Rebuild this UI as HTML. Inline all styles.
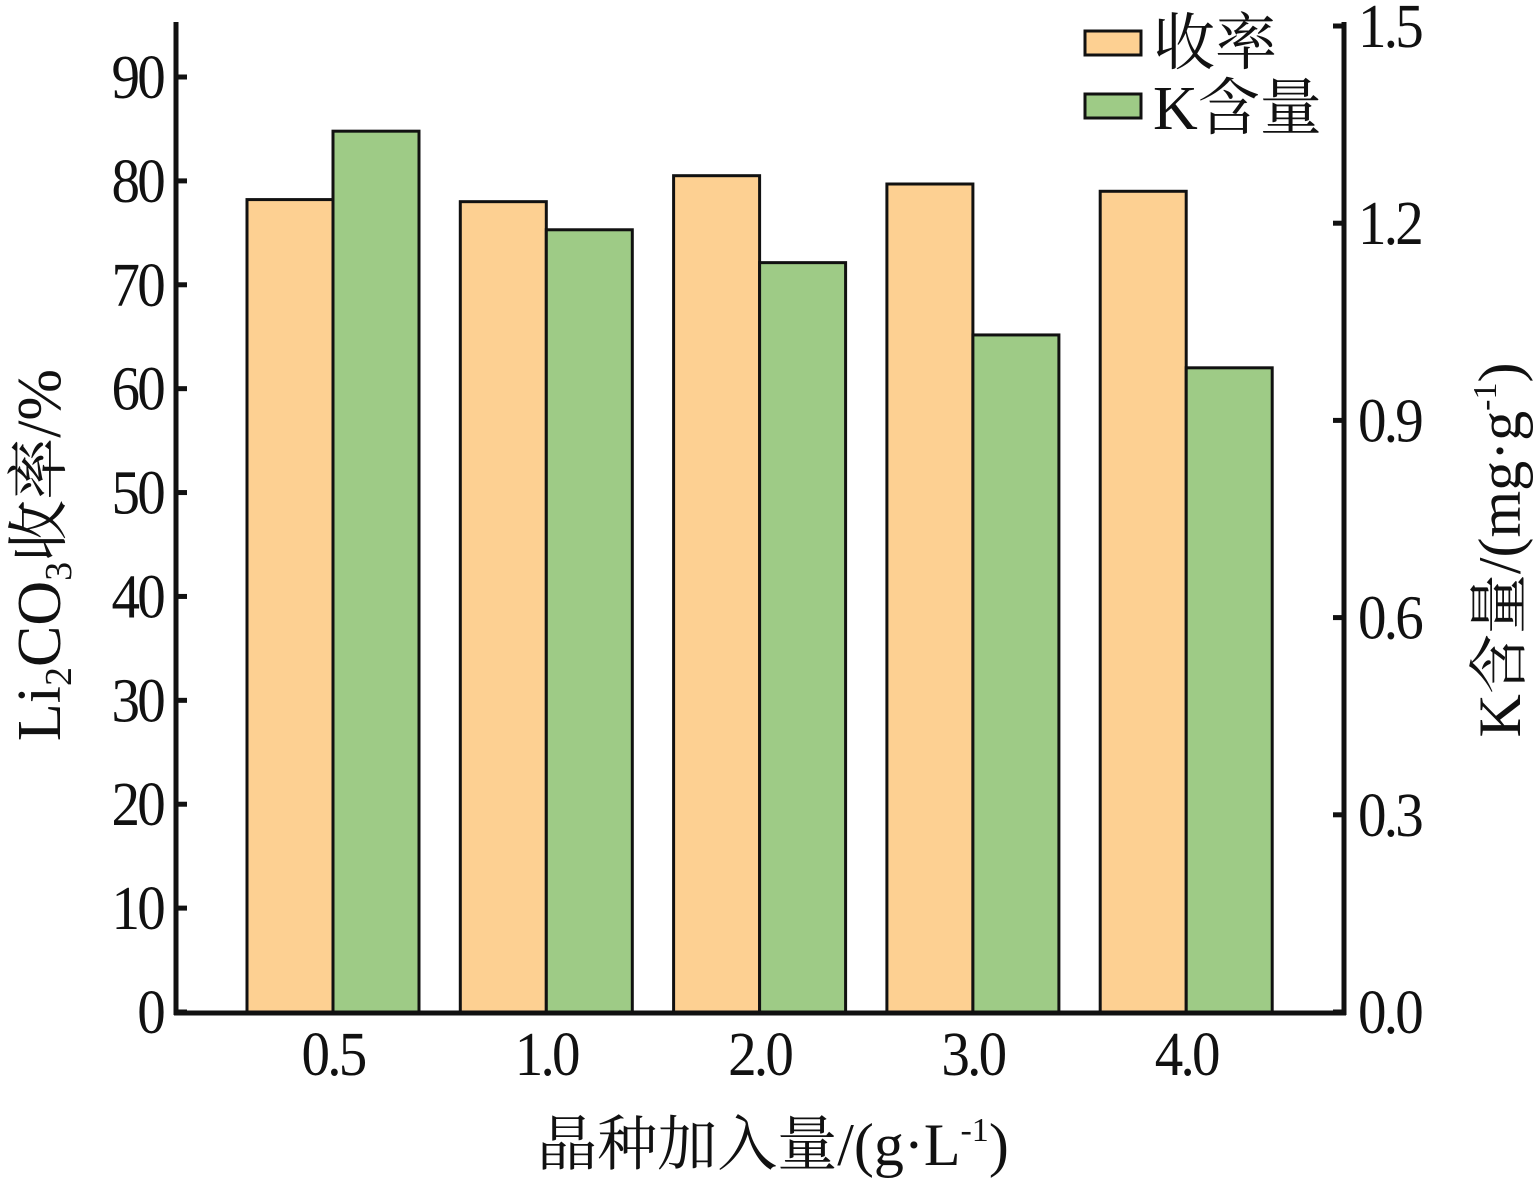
<!DOCTYPE html>
<html><head><meta charset="utf-8"><style>
body{margin:0;background:#fff}
svg{display:block;font-family:"Liberation Serif","Noto Serif CJK SC",serif}
</style></head><body>
<svg width="1535" height="1181" viewBox="0 0 1535 1181">
<g id="ax"></g><g id="bars"></g>
<g>
<rect x="1085" y="31" width="56" height="24" fill="#fdd092" stroke="#111" stroke-width="3"/>
<text x="1153" y="64" font-size="62" fill="#111">收率</text>
<rect x="1085" y="94" width="56" height="24" fill="#9ecb86" stroke="#111" stroke-width="3"/>
<text x="1153" y="129" font-size="62" fill="#111">K含量</text>
</g>
<text x="773" y="1165" font-size="60" text-anchor="middle" fill="#111">晶种加入量/(g·L<tspan font-size="34" dy="-24">-1</tspan><tspan dy="24">)</tspan></text>
<text transform="translate(60,555) rotate(-90)" font-size="62" text-anchor="middle" fill="#111">Li<tspan font-size="38" dy="11">2</tspan><tspan dy="-11">CO</tspan><tspan font-size="38" dy="11">3</tspan><tspan dy="-11">收率/%</tspan></text>
<text transform="translate(1520,550) rotate(-90)" font-size="60" text-anchor="middle" fill="#111">K含量/(mg·g<tspan font-size="34" dy="-24">-1</tspan><tspan dy="24">)</tspan></text>
</svg>
<script>
const categories=["0.5","1.0","2.0","3.0","4.0"];
const yieldVals=[78.2,78.0,80.5,79.7,79.0];
const kVals=[1.34,1.19,1.14,1.03,0.98];
const leftTicks=[0,10,20,30,40,50,60,70,80,90];
const rightTicks=["0.0","0.3","0.6","0.9","1.2","1.5"];
const NS="http://www.w3.org/2000/svg";
const y0=1012, xL=176, xR=1344;
const yL=v=>y0-v*(y0-77)/90;
const yR=v=>y0-v*(y0-26)/1.5;
const xc=i=>333+i*213.3;
const bw=86;
function mk(tag,attrs,parent){const e=document.createElementNS(NS,tag);for(const k in attrs)e.setAttribute(k,attrs[k]);parent.appendChild(e);return e;}
const ax=document.getElementById('ax'), bars=document.getElementById('bars');
let e;
e=mk('line',{x1:xL,y1:22,x2:xL,y2:y0+3,stroke:'#111','stroke-width':5},ax);


e=mk('line',{x1:xR,y1:22,x2:xR,y2:y0+3,stroke:'#111','stroke-width':5},ax);


leftTicks.forEach(v=>{
 const y=yL(v);
 e=mk('line',{x1:xL,y1:y,x2:xL+11,y2:y,stroke:'#111','stroke-width':5},ax);
 
 
 e=mk('text',{x:0,y:0,'font-size':62,'text-anchor':'end',fill:'#111','letter-spacing':-3,transform:`translate(163,${y+21}) scale(0.92,1)`},ax);
 e.textContent=v;
 
 
});
rightTicks.forEach(t=>{
 const y=yR(parseFloat(t));
 e=mk('line',{x1:xR-11,y1:y,x2:xR,y2:y,stroke:'#111','stroke-width':5},ax);
 
 
 e=mk('text',{x:0,y:0,'font-size':62,fill:'#111','letter-spacing':-3,transform:`translate(1358,${y+21}) scale(0.92,1)`},ax);
 e.textContent=t;
 
 
});
categories.forEach((c,i)=>{
 const x=xc(i);
 e=mk('rect',{x:x-bw,y:yL(yieldVals[i]),width:bw,height:y0-yL(yieldVals[i]),fill:'#fdd092',stroke:'#111','stroke-width':3},bars);
 
 
 e=mk('rect',{x:x,y:yR(kVals[i]),width:bw,height:y0-yR(kVals[i]),fill:'#9ecb86',stroke:'#111','stroke-width':3},bars);
 
 
 e=mk('text',{x:0,y:0,'font-size':62,'text-anchor':'middle',fill:'#111','letter-spacing':-3,transform:`translate(${x},1075) scale(0.92,1)`},ax);
 e.textContent=c;
 
 
});
e=mk('line',{x1:xL-2,y1:y0+1,x2:xR+2,y2:y0+1,stroke:'#111','stroke-width':5},ax);


</script>
</body></html>
